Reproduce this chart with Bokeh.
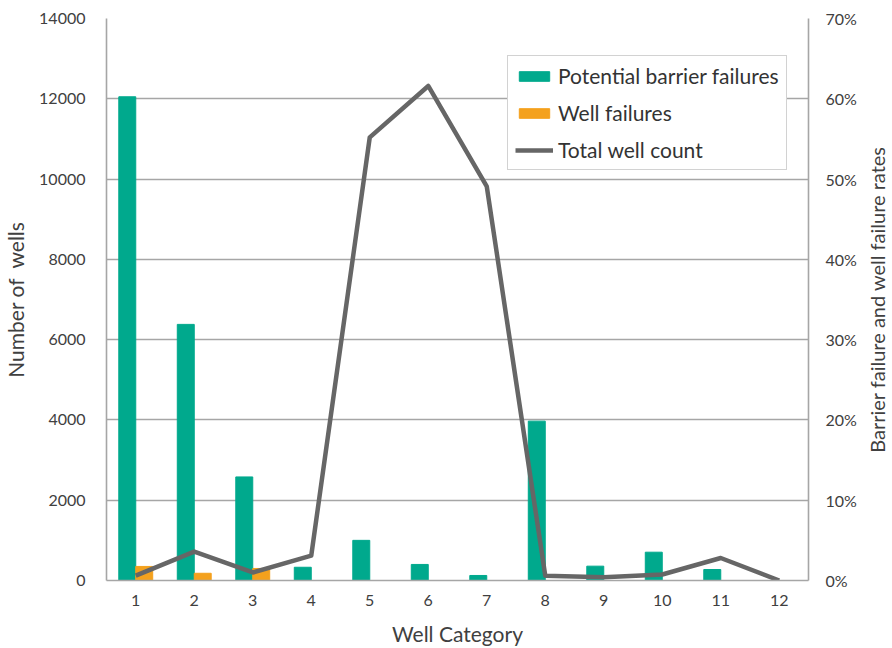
from bokeh.plotting import figure
from bokeh.layouts import row
from bokeh.models import (Range1d, LinearAxis, FixedTicker, ColumnDataSource,
                          PrintfTickFormatter, Legend, LegendItem, Title)
from bokeh.transform import dodge
from bokeh.embed import file_html
from bokeh.resources import INLINE

categories = [1, 2, 3, 4, 5, 6, 7, 8, 9, 10, 11, 12]
tick_labels = [str(c) for c in categories]
barrier_failures = [12050, 6380, 2580, 330, 1000, 400, 125, 3970, 357, 705, 274, 0]
well_failures = [350, 180, 300, 0, 0, 0, 0, 0, 0, 0, 0, 0]
total_rate_pct = [0.6, 3.6, 1.0, 3.1, 55.2, 61.6, 49.1, 0.6, 0.4, 0.75, 2.8, 0.0]
right_title = "Barrier failure and well failure rates"

FONT = "Lato"
TXT = "#404040"
GRID = "#a6a6a6"
GREEN = "#00a98d"
ORANGE = "#f4a11d"
LINE = "#666666"

src = ColumnDataSource(dict(cat=categories, bf=barrier_failures, wf=well_failures,
                            rate=total_rate_pct))

p = figure(frame_width=702, frame_height=562, output_backend="svg", toolbar_location=None,
           x_range=Range1d(0.5, 12.5), y_range=Range1d(0, 14000),
           min_border_left=106, min_border_right=54, min_border_top=18, min_border_bottom=68)
p.outline_line_color = None
p.background_fill_color = "white"
p.border_fill_color = "white"

p.extra_y_ranges = {"pct": Range1d(0, 70)}

g1 = p.vbar(x=dodge("cat", -0.145, range=p.x_range), top="bf", width=0.29,
            source=src, fill_color=GREEN, line_color=GREEN)
g2 = p.vbar(x=dodge("cat", 0.145, range=p.x_range), top="wf", width=0.29,
            source=src, fill_color=ORANGE, line_color=ORANGE)
g3 = p.line(x="cat", y="rate", source=src, y_range_name="pct", line_color=LINE,
            line_width=4.5, line_join="round")

p.xgrid.grid_line_color = None
p.ygrid.grid_line_color = GRID
p.ygrid.grid_line_width = 1.6
p.ygrid.ticker = FixedTicker(ticks=list(range(0, 14001, 2000)))

# x axis
xa = p.xaxis[0]
xa.ticker = FixedTicker(ticks=categories)
xa.major_label_overrides = {c: l for c, l in zip(categories, tick_labels)}
xa.axis_label = "Well Category"

# left axis
ya = p.yaxis[0]
ya.ticker = FixedTicker(ticks=list(range(0, 14001, 2000)))
ya.axis_label = "Number of\u00a0 wells"

# right axis
ra = LinearAxis(y_range_name="pct", ticker=FixedTicker(ticks=list(range(0, 71, 10))),
                formatter=PrintfTickFormatter(format="%d%%"))
p.add_layout(ra, "right")

for ax in [xa, ya, ra]:
    ax.axis_line_color = GRID
    ax.axis_line_width = 1.6
    ax.major_tick_line_color = None
    ax.major_tick_out = 0
    ax.major_tick_in = 0
    ax.minor_tick_line_color = None
    ax.major_label_text_font = FONT
    ax.major_label_text_font_size = "16px"
    ax.major_label_text_color = TXT
    ax.axis_label_text_font = FONT
    ax.axis_label_text_font_size = "21px"
    ax.axis_label_text_color = TXT
    ax.axis_label_text_font_style = "normal"
    ax.axis_label_standoff = 8
ya.major_label_standoff = 21
ra.major_label_standoff = 17
xa.major_label_standoff = 14
xa.axis_label_standoff = 12

legend = Legend(items=[
    LegendItem(label="Potential barrier failures", renderers=[g1]),
    LegendItem(label="Well failures", renderers=[g2]),
    LegendItem(label="Total well count", renderers=[g3]),
], location=(401, 410))
legend.label_text_font = FONT
legend.label_text_font_size = "21px"
legend.label_text_color = "#333333"
legend.glyph_width = 38
legend.glyph_height = 12
legend.label_height = 25
legend.spacing = 12
legend.padding = 7
legend.margin = 0
legend.label_standoff = 5
legend.border_line_color = GRID
legend.border_line_width = 1.6
legend.background_fill_color = "white"
legend.background_fill_alpha = 1.0
p.add_layout(legend, "center")

# narrow strip carrying the right-hand title (reads bottom to top)
q = figure(width=30, height=648, output_backend="svg", toolbar_location=None,
           x_axis_type=None, y_axis_type=None,
           min_border_left=4, min_border_right=0, min_border_top=18, min_border_bottom=68)
q.outline_line_color = None
q.grid.grid_line_color = None
q.border_fill_color = "white"
q.background_fill_color = "white"
q.add_layout(Title(text=right_title, align="center", text_font=FONT,
                   text_font_size="20px", text_font_style="normal",
                   text_color=TXT, standoff=0, offset=0), "left")

layout = row(p, q, spacing=0)
open("out.html", "w").write(file_html(layout, INLINE))
